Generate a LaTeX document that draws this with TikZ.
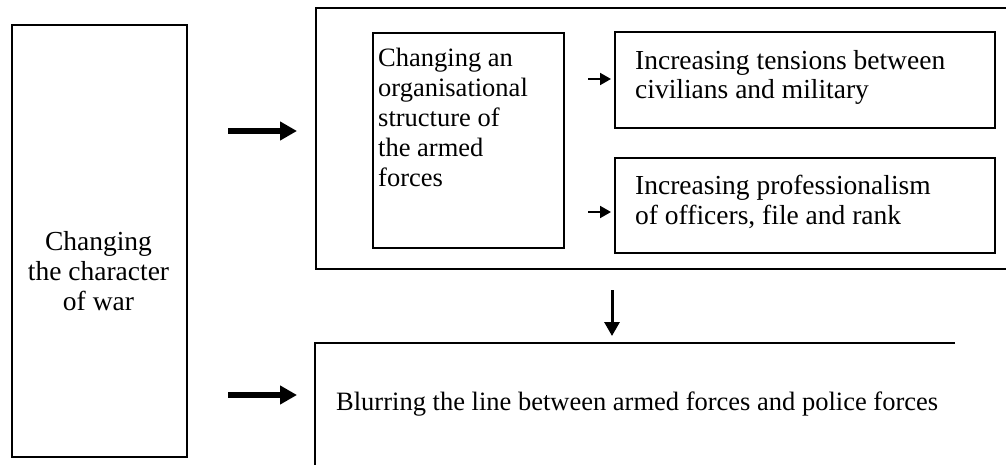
\documentclass[tikz,border=0pt]{standalone}
\usepackage{fontspec}
\setmainfont{Liberation Serif}
\usetikzlibrary{arrows.meta}
\begin{document}
\begin{tikzpicture}[x=1pt,y=-1pt,
  outerbox/.style={draw, line width=2pt, inner sep=0pt, anchor=north west},
  innerbox/.style={draw, line width=1.6pt, inner sep=0pt, anchor=north west},
  txt/.style={font=\fontsize{26.5}{30}\selectfont, inner sep=0pt, align=left, anchor=north west},
  bigtxt/.style={txt, font=\fontsize{27.5}{29.5}\selectfont},
  bigarr/.style={line width=6pt, -{Triangle[length=17pt,width=18pt]}},
  smallarr/.style={line width=2pt, -{Triangle[length=11pt,width=12pt]}},
  downarr/.style={line width=3pt, -{Triangle[length=14pt,width=15pt]}}]
\useasboundingbox (0,0) rectangle (1006,465);
\clip (0,0) rectangle (1006,465);
% boxes
\node[outerbox, minimum width=175pt, minimum height=432pt] (left) at (11,24) {};
\node[outerbox, minimum width=700pt, minimum height=261pt] (top) at (315,7) {};
\node[innerbox, minimum width=191pt, minimum height=215pt] (org) at (372,32) {};
\node[innerbox, minimum width=380pt, minimum height=96pt] (tens) at (614,31) {};
\node[innerbox, minimum width=380pt, minimum height=95pt] (prof) at (614,157) {};
\draw[line width=2pt] (955,343) -- (315,343) -- (315,475);
% texts
\node[bigtxt, font=\fontsize{27.5}{30}\selectfont, align=center, anchor=north] (lefttxt) at (98.5,231) {Changing\\the character\\of war};
\node[txt] (orgtxt) at (378,48) {Changing an\\organisational\\structure of\\the armed\\forces};
\node[bigtxt] (tenstxt) at (635,50) {Increasing tensions between\\civilians and military};
\node[bigtxt] (proftxt) at (635,175) {Increasing professionalism\\of officers, file and rank};
\node[txt] (blur) at (336,392) {Blurring the line between armed forces and police forces};
% arrows
\coordinate (a1s) at (228,131); \coordinate (a1e) at (297,131);
\coordinate (a2s) at (228,395); \coordinate (a2e) at (297,395);
\coordinate (s1s) at (588,79);  \coordinate (s1e) at (611,79);
\coordinate (s2s) at (588,212); \coordinate (s2e) at (611,212);
\coordinate (ds) at (612,290);  \coordinate (de) at (612,336);
\draw[bigarr] (a1s) -- (a1e);
\draw[bigarr] (a2s) -- (a2e);
\draw[smallarr] (s1s) -- (s1e);
\draw[smallarr] (s2s) -- (s2e);
\draw[downarr] (ds) -- (de);
\end{tikzpicture}
\end{document}
